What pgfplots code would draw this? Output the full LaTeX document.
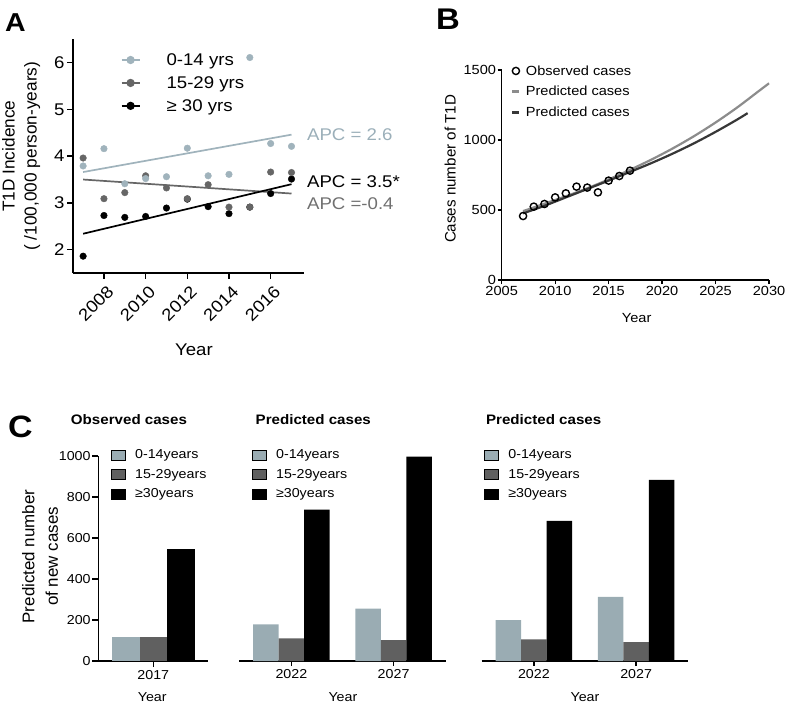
\documentclass[border=0pt]{standalone}
\usepackage{fontspec}
\setmainfont{Liberation Sans}[FakeStretch=1.1]
\newfontfamily\rotfam{Liberation Sans}
\usepackage{pgfplots}
\pgfplotsset{compat=1.18}

\definecolor{cLight}{RGB}{160,179,188}
\definecolor{cDark}{RGB}{102,102,102}
\definecolor{cLightTxt}{RGB}{155,175,185}
\definecolor{cDarkTxt}{RGB}{112,112,112}
\definecolor{cPredL}{RGB}{140,140,140}
\definecolor{cPredD}{RGB}{55,55,55}
\definecolor{cBarL}{RGB}{154,172,179}
\definecolor{cBarD}{RGB}{96,96,96}

\newcommand{\fA}{\fontsize{17}{20}\selectfont}
\newcommand{\fB}{\fontsize{13.3}{16}\selectfont}
\newcommand{\fC}{\fontsize{13}{16}\selectfont}

\pgfplotsset{
  every axis/.append style={
    /pgf/number format/assume math mode=true,
    /pgf/number format/1000 sep={},
    scale only axis, anchor=north west, clip=false,
    tick align=outside, axis line style={-}},
  % legend images (the trailing invisible path sets the gap before the text)
  alegend/.style={legend image code/.code={\draw[mark repeat=2, mark phase=2, ##1] plot coordinates {(0bp,0bp) (9bp,0bp) (18bp,0bp)}; \path[draw=none, fill=none] (0bp,0bp) -- (44bp,0bp);}},
  obslegend/.style={legend image code/.code={\draw[##1] plot coordinates {(5bp,0bp)}; \path[draw=none, fill=none] (0bp,0bp) -- (14bp,0bp);}},
  predlegend/.style={legend image code/.code={\draw[##1, line width=3bp] (1.5bp,0bp) -- (8.5bp,0bp); \path[draw=none, fill=none] (0bp,0bp) -- (14bp,0bp);}},
  clegend/.style={legend image code/.code={\fill[##1] (0bp,-5bp) rectangle (14.3bp,5bp); \path[draw=none, fill=none] (0bp,0bp) -- (23bp,0bp);}},
  cpanel/.style={
    height=205bp, ymin=0, ymax=1000,
    axis x line*=bottom,
    axis line style={line width=1.5bp},
    tick style={black, line width=1.3bp}, major tick length=5bp,
    ticklabel style={font=\fC},
    xlabel={Year},
    xlabel style={font=\fC, anchor=center},
    legend style={draw=none, fill=none, inner sep=0pt, row sep=7bp,
      font=\fC, nodes={inner sep=1bp}, anchor=north west},
    legend cell align=left},
}

\begin{document}
\begin{tikzpicture}
\useasboundingbox (0bp,0bp) rectangle (787bp,-706bp);

% ---------------- panel A ----------------
\begin{axis}[at={(72.7bp,-39.3bp)}, width=231.3bp, height=233.7bp,
  xmin=2006.5, xmax=2017.6, ymin=1.5, ymax=6.5,
  axis x line*=bottom, axis y line*=left,
  axis line style={line width=1.7bp},
  tick style={black, line width=1.4bp}, major tick length=5.5bp,
  xtick={2008,2010,2012,2014,2016}, ytick={2,3,4,5,6},
  ticklabel style={font=\fA},
  xticklabel style={rotate=45, anchor=east, inner sep=2bp, xshift=-0.5bp, yshift=-12bp},
  yticklabel style={inner sep=2.5bp},
  xlabel={Year},
  xlabel style={font=\fA, at={(axis description cs:0.524,-0.329)}, anchor=center},
  ylabel={T1D Incidence\\( /100,000 person-years)},
  ylabel style={font=\rotfam\fontsize{17.3}{22}\selectfont, align=center,
    at={(axis description cs:-0.223,0.5)}, anchor=center},
  legend style={at={(axis description cs:0.207,0.945)}, anchor=north west,
    draw=none, fill=none, inner sep=0pt, row sep=7.6bp, font=\fA,
    nodes={inner sep=1bp}},
  legend cell align=left,
]
\addlegendimage{alegend, cLight, line width=1.6bp, mark=*, mark size=3.3bp}
\addlegendentry{0-14 yrs}
\addlegendimage{alegend, cDark, line width=1.6bp, mark=*, mark size=3.3bp}
\addlegendentry{15-29 yrs}
\addlegendimage{alegend, black, line width=1.6bp, mark=*, mark size=3.3bp}
\addlegendentry{≥ 30 yrs}

\addplot[forget plot, only marks, mark=*, mark size=3.3bp, black] coordinates {
  (2007,1.86) (2008,2.73) (2009,2.69) (2010,2.71) (2011,2.89) (2012,3.08)
  (2013,2.92) (2014,2.77) (2015,2.91) (2016,3.20) (2017,3.51)};
\addplot[forget plot, only marks, mark=*, mark size=3.3bp, cDark] coordinates {
  (2007,3.96) (2008,3.09) (2009,3.22) (2010,3.58) (2011,3.32) (2012,3.09)
  (2013,3.39) (2014,2.91) (2015,2.91) (2016,3.66) (2017,3.65)};
\addplot[forget plot, only marks, mark=*, mark size=3.3bp, cLight] coordinates {
  (2007,3.79) (2008,4.16) (2009,3.41) (2010,3.52) (2011,3.56) (2012,4.17)
  (2013,3.58) (2014,3.61) (2015,6.11) (2016,4.27) (2017,4.21)};

\addplot[forget plot, cLight, line width=1.7bp] coordinates {(2007,3.66) (2017,4.46)};
\addplot[forget plot, cDark, line width=1.7bp] coordinates {(2007,3.50) (2017,3.20)};
\addplot[forget plot, black, line width=1.7bp] coordinates {(2007,2.34) (2017,3.40)};

\node[anchor=west, font=\fA, text=cLightTxt, inner sep=0pt] at (axis cs:2017.74,4.45) {APC = 2.6};
\node[anchor=west, font=\fA, text=black, inner sep=0pt] at (axis cs:2017.74,3.45) {APC = 3.5*};
\node[anchor=west, font=\fA, text=cDarkTxt, inner sep=0pt] at (axis cs:2017.74,2.98) {APC =-0.4};
\end{axis}

% ---------------- panel B ----------------
\begin{axis}[at={(501.7bp,-70bp)}, width=267.3bp, height=210bp,
  xmin=2005, xmax=2030, ymin=0, ymax=1500,
  axis x line*=bottom, axis y line*=left,
  axis line style={line width=1.5bp},
  tick style={black, line width=1.3bp}, major tick length=4bp,
  xtick={2005,2010,...,2030}, ytick={0,500,1000,1500},
  ticklabel style={font=\fB},
  yticklabel style={inner sep=1.5bp},
  xticklabel style={inner sep=2.5bp},
  xlabel={Year},
  xlabel style={font=\fB, at={(axis description cs:0.505,-0.18)}, anchor=center},
  ylabel={Cases number of T1D},
  ylabel style={font=\rotfam\fontsize{15.2}{18}\selectfont,
    at={(axis description cs:-0.193,0.529)}, anchor=center},
  legend style={at={(axis description cs:0.0337,1.0276)}, anchor=north west,
    draw=none, fill=none, inner sep=0pt, row sep=7.8bp, font=\fB,
    nodes={inner sep=1bp}},
  legend cell align=left,
]
\addlegendimage{obslegend, only marks, mark=o, mark size=3.6bp, black, mark options={line width=1.4bp}}
\addlegendentry{Observed cases}
\addlegendimage{predlegend, cPredL}
\addlegendentry{Predicted cases}
\addlegendimage{predlegend, cPredD}
\addlegendentry{Predicted cases}

\addplot[forget plot, smooth, cPredL, line width=2.2bp] coordinates {
  (2007,492) (2009,545) (2011,598) (2013,655) (2015,718) (2017,787) (2019,860)
  (2021,940) (2023,1028) (2025,1125) (2027,1231) (2029,1347) (2030,1405)};
\addplot[forget plot, smooth, cPredD, line width=2.2bp] coordinates {
  (2007,476) (2009,530) (2011,590) (2013,650) (2015,710) (2017,772) (2019,835)
  (2021,903) (2023,977) (2025,1058) (2027,1145) (2028,1192)};
\addplot[forget plot, only marks, mark=o, mark size=3.6bp, black, mark options={line width=1.4bp}] coordinates {
  (2007,457) (2008,524) (2009,543) (2010,590) (2011,619) (2012,667)
  (2013,660) (2014,626) (2015,710) (2016,743) (2017,781)};
\end{axis}

% ---------------- panel C ----------------
\begin{axis}[cpanel, at={(98.3bp,-456bp)}, width=110bp,
  xmin=-0.5, xmax=0.5,
  axis y line*=left,
  ytick={0,200,...,1000}, xtick={0}, xticklabels={2017},
  major tick length=6bp,
  yticklabel style={inner sep=1.5bp},
  xlabel style={at={(axis description cs:0.49,-0.175)}},
  ylabel={Predicted number\\of new cases},
  ylabel style={font=\rotfam\fontsize{17}{23.5}\selectfont, align=center,
    at={(axis description cs:-0.53,0.51)}, anchor=center},
  legend style={at={(axis description cs:0.113,1.036)}},
]
\addlegendimage{clegend, fill=cBarL}\addlegendentry{0-14years}
\addlegendimage{clegend, fill=cBarD}\addlegendentry{15-29years}
\addlegendimage{clegend, fill=black}\addlegendentry{≥30years}
\addplot[forget plot, ybar, bar width=0.25, bar shift=-0.25, fill=cBarL, draw=none] coordinates {(0,118)};
\addplot[forget plot, ybar, bar width=0.25, bar shift=0, fill=cBarD, draw=none] coordinates {(0,115)};
\addplot[forget plot, ybar, bar width=0.25, bar shift=0.25, fill=black, draw=none] coordinates {(0,545)};
\node[font=\bfseries\fontsize{13.8}{16}\selectfont, anchor=center] at (axis description cs:0.279,1.18) {Observed cases};
\end{axis}

\begin{axis}[cpanel, at={(239.3bp,-456bp)}, width=206.4bp,
  xmin=-0.51, xmax=1.51,
  axis y line=none,
  xtick={0,1}, xticklabels={2022,2027},
  xlabel style={at={(axis description cs:0.502,-0.175)}},
  legend style={at={(axis description cs:0.06,1.036)}},
]
\addlegendimage{clegend, fill=cBarL}\addlegendentry{0-14years}
\addlegendimage{clegend, fill=cBarD}\addlegendentry{15-29years}
\addlegendimage{clegend, fill=black}\addlegendentry{≥30years}
\addplot[forget plot, ybar, bar width=0.25, bar shift=-0.25, fill=cBarL, draw=none] coordinates {(0,179) (1,256)};
\addplot[forget plot, ybar, bar width=0.25, bar shift=0, fill=cBarD, draw=none] coordinates {(0,110) (1,102)};
\addplot[forget plot, ybar, bar width=0.25, bar shift=0.25, fill=black, draw=none] coordinates {(0,738) (1,997)};
\node[font=\bfseries\fontsize{13.8}{16}\selectfont, anchor=center] at (axis description cs:0.3585,1.18) {Predicted cases};
\end{axis}

\begin{axis}[cpanel, at={(481.7bp,-456bp)}, width=206.6bp,
  xmin=-0.51, xmax=1.51,
  axis y line=none,
  xtick={0,1}, xticklabels={2022,2027},
  xlabel style={at={(axis description cs:0.5,-0.175)}},
  legend style={at={(axis description cs:0.011,1.036)}},
]
\addlegendimage{clegend, fill=cBarL}\addlegendentry{0-14years}
\addlegendimage{clegend, fill=cBarD}\addlegendentry{15-29years}
\addlegendimage{clegend, fill=black}\addlegendentry{≥30years}
\addplot[forget plot, ybar, bar width=0.25, bar shift=-0.25, fill=cBarL, draw=none] coordinates {(0,200) (1,313)};
\addplot[forget plot, ybar, bar width=0.25, bar shift=0, fill=cBarD, draw=none] coordinates {(0,105) (1,92)};
\addplot[forget plot, ybar, bar width=0.25, bar shift=0.25, fill=black, draw=none] coordinates {(0,683) (1,884)};
\node[font=\bfseries\fontsize{13.8}{16}\selectfont, anchor=center] at (axis description cs:0.3,1.18) {Predicted cases};
\end{axis}

% panel letters
\node[font=\bfseries\fontsize{26}{30}\selectfont, anchor=center] at (15.5bp,-22.5bp) {A};
\node[font=\bfseries\fontsize{30}{34}\selectfont, anchor=center] at (448bp,-19bp) {B};
\node[font=\bfseries\fontsize{31}{35}\selectfont, anchor=center] at (20.5bp,-426.5bp) {C};
\end{tikzpicture}
\end{document}
